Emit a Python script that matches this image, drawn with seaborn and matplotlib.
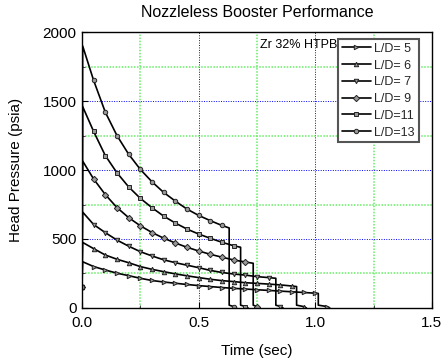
import matplotlib
matplotlib.use("Agg")
import matplotlib.pyplot as plt
import numpy as np
import pandas as pd
import seaborn as sns

# Time grid (sec) where the marked samples sit
T_GRID = [0.05, 0.10, 0.15, 0.20, 0.25, 0.30, 0.35, 0.40, 0.45, 0.50,
          0.55, 0.60, 0.65, 0.70, 0.75, 0.80, 0.85, 0.90, 0.95, 1.00, 1.05]

LABELS = ["L/D= 5", "L/D= 6", "L/D= 7", "L/D= 9", "L/D=11", "L/D=13"]
MARKERS = [">", "^", "v", "D", "s", "o"]

# head pressure (psia)
P_START = [150, 150, 150, 150, 150, 150]
P_PEAK = [335, 475, 695, 1065, 1460, 1900]
P_CURVES = [
    [300, 275, 252, 234, 215, 199, 188, 179, 170, 162, 155, 148, 142, 137,
     132, 127, 122, 117, 112, 107],
    [430, 384, 353, 328, 300, 280, 263, 247, 233, 220, 208, 198, 191, 183,
     178, 173, 167, 159],
    [605, 546, 492, 448, 408, 377, 349, 328, 310, 292, 272, 257, 246, 238,
     227, 220],
    [935, 822, 728, 655, 596, 547, 506, 471, 440, 413, 389, 368, 348, 333],
    [1280, 1105, 980, 878, 795, 727, 666, 616, 572, 536, 505, 476, 451],
    [1650, 1420, 1250, 1115, 1005, 915, 838, 775, 717, 671, 633, 598],
]
T_BURNOUT = [1.013, 0.920, 0.831, 0.734, 0.680, 0.631]
P_BURNOUT = [105, 155, 215, 324, 440, 580]
P_TAIL = [20, 10, 0]

rows = []
mark_idx = []
for i, lab in enumerate(LABELS):
    vals = P_CURVES[i]
    n = len(vals)
    t_next = T_GRID[n]
    t = [0.0, 0.003] + T_GRID[:n] + [T_BURNOUT[i], T_BURNOUT[i], t_next, t_next + 0.012]
    p = [P_START[i], P_PEAK[i]] + vals + [P_BURNOUT[i]] + P_TAIL
    for tt, pp in zip(t, p):
        rows.append({"series": lab, "time": tt, "pressure": pp})
    mark_idx.append([0] + list(range(2, n + 2)) + [n + 4])
df = pd.DataFrame(rows)

sns.set_theme(style="white")
plt.rcParams["font.family"] = ["Liberation Sans", "DejaVu Sans"]

fig, ax = plt.subplots(figsize=(4.43, 3.61), dpi=100)
fig.subplots_adjust(left=0.185, right=0.975, top=0.911, bottom=0.147)

for i, lab in enumerate(LABELS):
    sub = df[df["series"] == lab]
    sns.lineplot(
        x=sub["time"].values, y=sub["pressure"].values, ax=ax,
        sort=False, estimator=None, color="black", lw=1.2,
        marker=MARKERS[i], markevery=mark_idx[i], markersize=3.2,
        markerfacecolor="#999999", markeredgecolor="#222222",
        markeredgewidth=0.7, label=lab,
    )

ax.set_xlim(0, 1.5)
ax.set_ylim(0, 2000)
ax.set_xticks([0, 0.5, 1.0, 1.5])
ax.set_xticklabels(["0.0", "0.5", "1.0", "1.5"])
ax.set_xticks([0.25, 0.75, 1.25], minor=True)
ax.set_yticks([0, 500, 1000, 1500, 2000])
ax.set_yticks([250, 750, 1250, 1750], minor=True)
ax.set_axisbelow(True)
ax.grid(which="major", color="#0000ff", ls=(0, (1, 1.5)), lw=0.7)
ax.grid(which="minor", color="#66ee66", ls=(0, (1, 1)), lw=1.1)
ax.tick_params(which="major", direction="in", length=4, width=0.8,
               labelsize=11, colors="black", left=True, bottom=True)
ax.tick_params(axis="x", which="major", pad=6)
ax.tick_params(axis="y", which="major", pad=4)
ax.tick_params(which="minor", direction="in", length=2, width=0.6,
               left=True, bottom=True)
for s in ax.spines.values():
    s.set_color("black")
    s.set_linewidth(1.0)

ax.set_xlabel("Time (sec)", fontsize=11, color="black", labelpad=10)
ax.set_ylabel("Head Pressure (psia)", fontsize=11, color="black", labelpad=14)
ax.set_title("Nozzleless Booster Performance", fontsize=11.5, color="black", pad=11)

ax.text(0.73, 0.952, "Zr 32% HTPB", transform=ax.transAxes, ha="right",
        va="center", fontsize=9, color="black")

leg = ax.legend(loc="upper right", bbox_to_anchor=(0.962, 0.975), fontsize=9,
                frameon=True, fancybox=False, handlelength=2.3,
                borderpad=0.3, labelspacing=0.38, handletextpad=0.3,
                borderaxespad=0)
leg.get_frame().set_edgecolor("#555555")
leg.get_frame().set_linewidth(1.5)
leg.get_frame().set_alpha(1)

fig.savefig("out.png", dpi=100)
